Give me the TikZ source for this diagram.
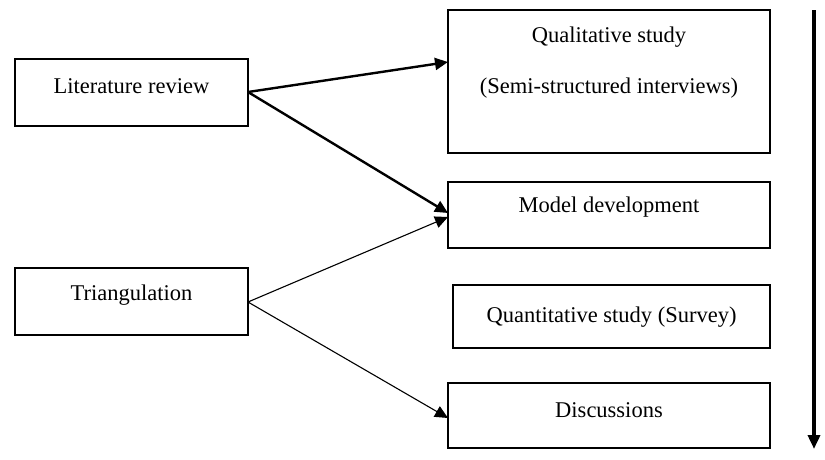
\documentclass[tikz,border=0pt]{standalone}
\usepackage{fontspec}
\setmainfont{Liberation Serif}
\usetikzlibrary{arrows.meta}
\begin{document}
\begin{tikzpicture}[x=1pt,y=-1pt,
  box/.style={draw,line width=2.4pt},
  thinbox/.style={draw,line width=1.5pt},
  lbl/.style={font=\fontsize{22.5}{27}\selectfont,anchor=center,inner sep=0pt},
  heavy/.style={line width=2.4pt,-{Triangle[length=13pt,width=12pt]}},
  light/.style={line width=1.1pt,-{Triangle[length=13pt,width=12pt]}}]
\useasboundingbox (0,0) rectangle (825,459);

% left column
\draw[box] (15,59) rectangle (248,126);
\node[lbl] (litT) at (131.5,86) {Literature review};
\coordinate (lit) at (248,92);

\draw[box] (15,268) rectangle (248,335);
\node[lbl] (triT) at (131.5,295) {Triangulation};
\coordinate (tri) at (248,302);

% right column
\draw[box] (448,10) rectangle (770,153);
\node[lbl] (qualA) at (609,37) {Qualitative study};
\node[lbl] (qualB) at (609,88) {(Semi-structured interviews)};
\coordinate (qual) at (448,62);

\draw[box] (448,182) rectangle (770,248);
\node[lbl] (modT) at (609,207) {Model development};
\coordinate (mod) at (448,213);
\coordinate (modlow) at (448,217);

\draw[thinbox] (453,285) rectangle (770,348);
\node[lbl] (quanT) at (611.5,317) {Quantitative study (Survey)};

\draw[box] (448,383) rectangle (770,448);
\node[lbl] (disT) at (609,410) {Discussions};
\coordinate (dis) at (448,418);

% connectors
\draw[heavy] (lit) -- (qual);
\draw[heavy] (lit) -- (mod);
\draw[light] (tri) -- (modlow);
\draw[light] (tri) -- (dis);

% time axis
\coordinate (axTop) at (814,10);
\coordinate (axBot) at (814,449);
\draw[line width=3.5pt,-{Triangle[length=14pt,width=12pt]}] (axTop) -- (axBot);
\end{tikzpicture}
\end{document}
